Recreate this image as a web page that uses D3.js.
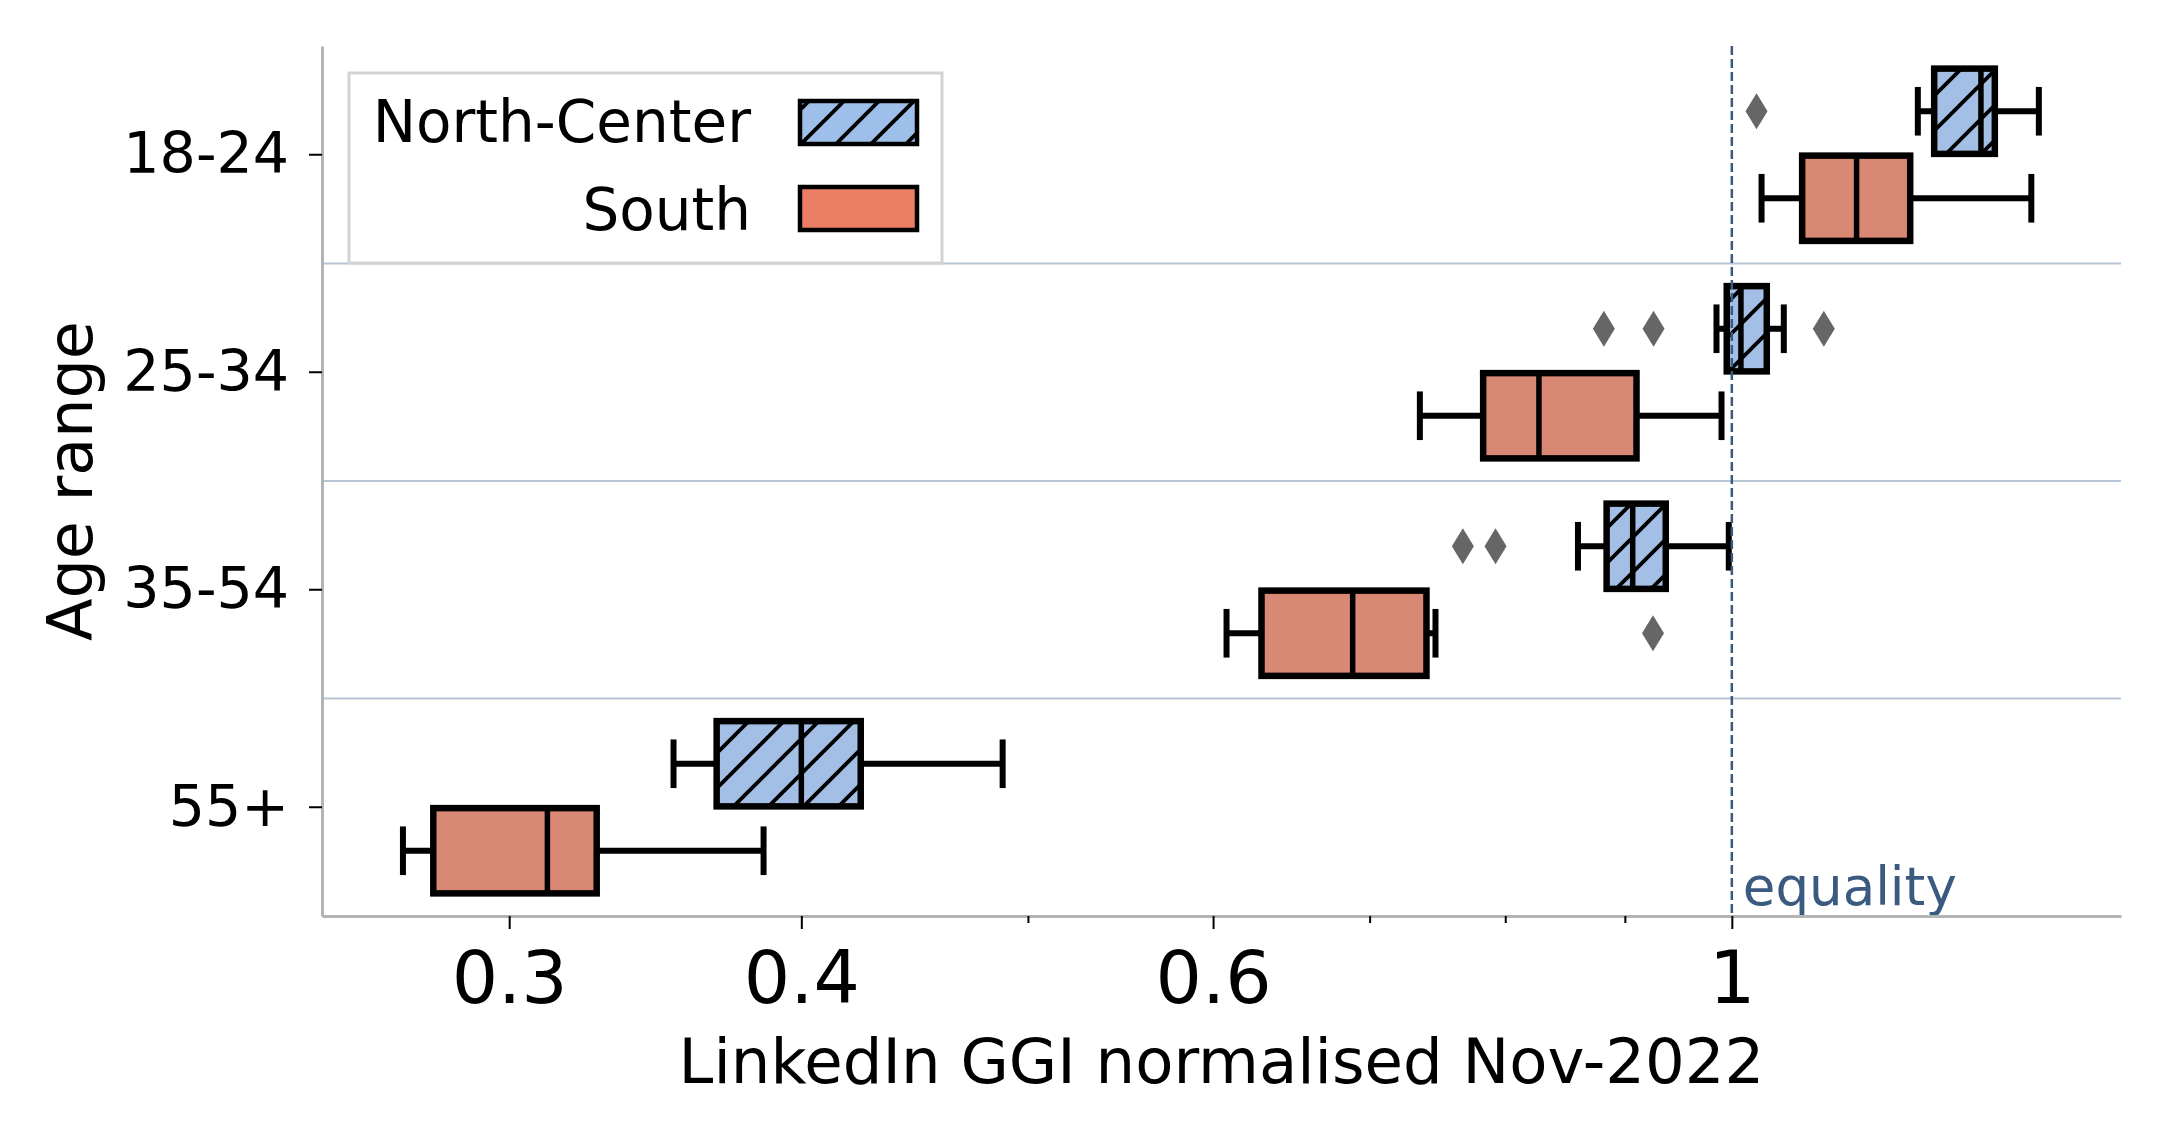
<!DOCTYPE html>
<html>
<head>
<meta charset="utf-8">
<script src="https://cdn.jsdelivr.net/npm/d3@7"></script>
<style>
  body { margin: 0; background: #fff; }
  svg { display: block; font-family: "DejaVu Sans", sans-serif; }
</style>
</head>
<body>
<div class="chart"></div>
<script>
/** Categories and groups */
let ageGroups = ["18-24", "25-34", "35-54", "55+"];
let regions = ["North-Center", "South"];

/** Box stats: [lower whisker, q1, median, q3, upper whisker] per age group */
let northCenterStats = [
    [1.201, 1.2205, 1.278, 1.2956, 1.353],
    [0.985, 0.995, 1.009, 1.035, 1.0525],
    [0.8594, 0.884, 0.907, 0.937, 0.997],
    [0.3527, 0.368, 0.400, 0.4241, 0.4877]
];
let southStats = [
    [1.0297, 1.0717, 1.1307, 1.192, 1.343],
    [0.7355, 0.7828, 0.827, 0.9104, 0.9899],
    [0.608, 0.6293, 0.6884, 0.7403, 0.7469],
    [0.2702, 0.2784, 0.3115, 0.327, 0.3854]
];

/** Outliers per age group */
let northCenterOutliers = [[1.0246], [0.8816, 0.9258, 1.0948], [0.7673, 0.7924], []];
let southOutliers = [[], [], [0.9253], []];

/** Tick values */
let xMajorTicks = [0.3, 0.4, 0.6, 1];
let xMinorTicks = [0.5, 0.7, 0.8, 0.9];
let equalityValue = 1;

/** Colours */
let boxColors = { "North-Center": "#a4bfe5", "South": "#d98973" };
let legendColors = { "North-Center": "#9dbfea", "South": "#ec7e65" };

/** Set up canvas */
let width = 2166, height = 1140;
let plot = { left: 322, right: 2121, top: 46, bottom: 916 };

let svg = d3.select('.chart').append('svg')
    .attr('width', width)
    .attr('height', height);

/** hatch pattern for North-Center */
let defs = svg.append('defs');
defs.append('pattern')
    .attr('id', 'hatch')
    .attr('patternUnits', 'userSpaceOnUse')
    .attr('width', 35)
    .attr('height', 35)
    .append('path')
    .attr('d', 'M0,35 L35,0 M-5,5 L5,-5 M30,40 L40,30')
    .attr('stroke', '#000')
    .attr('stroke-width', 3.8);

/** scales and axes */
let xScale = d3.scaleLog()
    .domain([0.2495, 1.467])
    .range([plot.left, plot.right]);

let yScale = d3.scaleBand()
    .domain(ageGroups)
    .range([plot.top, plot.bottom])
    .padding(0);

let hueScale = d3.scaleBand()
    .domain(regions)
    .range([0.1 * yScale.bandwidth(), 0.9 * yScale.bandwidth()]);

let boxH = hueScale.bandwidth() * 0.98;

/** separator lines between age groups */
svg.append('g')
    .selectAll('line')
    .data(ageGroups.slice(1))
    .enter()
    .append('line')
    .attr('x1', plot.left)
    .attr('x2', plot.right)
    .attr('y1', d => yScale(d))
    .attr('y2', d => yScale(d))
    .attr('stroke', '#b7c5d6')
    .attr('stroke-width', 2);

/** build rows of box data */
let boxData = [];
ageGroups.forEach(function (g, i) {
    boxData.push({ group: g, region: "North-Center", s: northCenterStats[i], out: northCenterOutliers[i] });
    boxData.push({ group: g, region: "South", s: southStats[i], out: southOutliers[i] });
});

function cy(d) { return yScale(d.group) + hueScale(d.region) + hueScale.bandwidth() / 2; }

let boxes = svg.append('g').selectAll('.box')
    .data(boxData)
    .enter()
    .append('g')
    .attr('class', 'box');

/** whiskers */
boxes.append('line')
    .attr('x1', d => xScale(d.s[0]))
    .attr('x2', d => xScale(d.s[1]))
    .attr('y1', cy).attr('y2', cy)
    .attr('stroke', '#000').attr('stroke-width', 6);
boxes.append('line')
    .attr('x1', d => xScale(d.s[3]))
    .attr('x2', d => xScale(d.s[4]))
    .attr('y1', cy).attr('y2', cy)
    .attr('stroke', '#000').attr('stroke-width', 6);

/** caps */
[0, 4].forEach(function (k) {
    boxes.append('line')
        .attr('x1', d => xScale(d.s[k]))
        .attr('x2', d => xScale(d.s[k]))
        .attr('y1', d => cy(d) - boxH / 4)
        .attr('y2', d => cy(d) + boxH / 4)
        .attr('stroke', '#000')
        .attr('stroke-width', 6)
        .attr('stroke-linecap', 'square');
});

/** box body */
boxes.append('rect')
    .attr('x', d => xScale(d.s[1]))
    .attr('y', d => cy(d) - boxH / 2)
    .attr('width', d => xScale(d.s[3]) - xScale(d.s[1]))
    .attr('height', boxH)
    .attr('fill', d => boxColors[d.region]);

boxes.filter(d => d.region === "North-Center")
    .append('rect')
    .attr('x', d => xScale(d.s[1]))
    .attr('y', d => cy(d) - boxH / 2)
    .attr('width', d => xScale(d.s[3]) - xScale(d.s[1]))
    .attr('height', boxH)
    .attr('fill', 'url(#hatch)');

boxes.append('rect')
    .attr('x', d => xScale(d.s[1]))
    .attr('y', d => cy(d) - boxH / 2)
    .attr('width', d => xScale(d.s[3]) - xScale(d.s[1]))
    .attr('height', boxH)
    .attr('fill', 'none')
    .attr('stroke', '#000')
    .attr('stroke-width', 6.5);

/** median */
boxes.append('line')
    .attr('x1', d => xScale(d.s[2]))
    .attr('x2', d => xScale(d.s[2]))
    .attr('y1', d => cy(d) - boxH / 2)
    .attr('y2', d => cy(d) + boxH / 2)
    .attr('stroke', '#000')
    .attr('stroke-width', 5.5);

/** outliers as thin diamonds */
boxes.selectAll('.outlier')
    .data(d => d.out.map(v => ({ v: v, y: cy(d) })))
    .enter()
    .append('path')
    .attr('class', 'outlier')
    .attr('d', 'M0,-18 L11,0 L0,18 L-11,0Z')
    .attr('transform', d => `translate(${xScale(d.v)}, ${d.y})`)
    .attr('fill', '#666666');

/** equality line */
svg.append('line')
    .attr('x1', xScale(equalityValue))
    .attr('x2', xScale(equalityValue))
    .attr('y1', plot.top)
    .attr('y2', plot.bottom)
    .attr('stroke', '#3a5a80')
    .attr('stroke-width', 2.5)
    .attr('stroke-dasharray', '9,4');

svg.append('text')
    .attr('x', xScale(equalityValue) + 11)
    .attr('y', 905)
    .attr('fill', '#3a5a80')
    .style('font-size', '53px')
    .text('equality');

/** axes */
let yAxis = d3.axisLeft(yScale).tickSize(13).tickSizeOuter(0).tickPadding(20);
let yG = svg.append('g')
    .attr('transform', `translate(${plot.left}, 0)`)
    .call(yAxis);
yG.select('.domain').attr('stroke', '#b4b4b4').attr('stroke-width', 3);
yG.selectAll('.tick line').attr('stroke', '#000').attr('stroke-width', 2);
yG.selectAll('.tick text')
    .attr('fill', '#000')
    .style('font-size', '57px')
    .style('font-family', '"DejaVu Sans", sans-serif');

let xAxis = d3.axisBottom(xScale)
    .tickValues(xMajorTicks)
    .tickFormat(d => String(d))
    .tickSize(13)
    .tickSizeOuter(0)
    .tickPadding(22);
let xG = svg.append('g')
    .attr('transform', `translate(0, ${plot.bottom})`)
    .call(xAxis);
xG.select('.domain').attr('stroke', '#b4b4b4').attr('stroke-width', 3);
xG.selectAll('.tick line').attr('stroke', '#000').attr('stroke-width', 2);
xG.selectAll('.tick text')
    .attr('fill', '#000')
    .style('font-size', '73px')
    .style('font-family', '"DejaVu Sans", sans-serif');

let xMinor = d3.axisBottom(xScale)
    .tickValues(xMinorTicks)
    .tickFormat('')
    .tickSize(7)
    .tickSizeOuter(0);
let xmG = svg.append('g')
    .attr('transform', `translate(0, ${plot.bottom})`)
    .call(xMinor);
xmG.select('.domain').remove();
xmG.selectAll('.tick line').attr('stroke', '#000').attr('stroke-width', 2);

/** axis labels */
svg.append('text')
    .attr('x', (plot.left + plot.right) / 2)
    .attr('y', 1083)
    .attr('text-anchor', 'middle')
    .style('font-size', '62.5px')
    .text('LinkedIn GGI normalised Nov-2022');

svg.append('text')
    .attr('transform', `translate(92, ${(plot.top + plot.bottom) / 2}) rotate(-90)`)
    .attr('text-anchor', 'middle')
    .style('font-size', '62px')
    .text('Age range');

/** legend */
let legend = svg.append('g');
legend.append('rect')
    .attr('x', 349).attr('y', 73)
    .attr('width', 593).attr('height', 190)
    .attr('fill', '#fff')
    .attr('stroke', '#d3d3d3')
    .attr('stroke-width', 3);

let legendRows = legend.selectAll('.legend-row')
    .data(regions)
    .enter()
    .append('g')
    .attr('class', 'legend-row')
    .attr('transform', (d, i) => `translate(0, ${i * 86})`);

legendRows.append('rect')
    .attr('x', 800).attr('y', 101)
    .attr('width', 117).attr('height', 43)
    .attr('fill', d => legendColors[d]);
legendRows.filter(d => d === "North-Center")
    .append('rect')
    .attr('x', 800).attr('y', 101)
    .attr('width', 117).attr('height', 43)
    .attr('fill', 'url(#hatch)');
legendRows.append('rect')
    .attr('x', 800).attr('y', 101)
    .attr('width', 117).attr('height', 43)
    .attr('fill', 'none')
    .attr('stroke', '#000')
    .attr('stroke-width', 4.5);
legendRows.append('text')
    .attr('x', 751)
    .attr('y', (d, i) => 142 + i * 2)
    .attr('text-anchor', 'end')
    .style('font-size', '58px')
    .text(d => d);
</script>
</body>
</html>
